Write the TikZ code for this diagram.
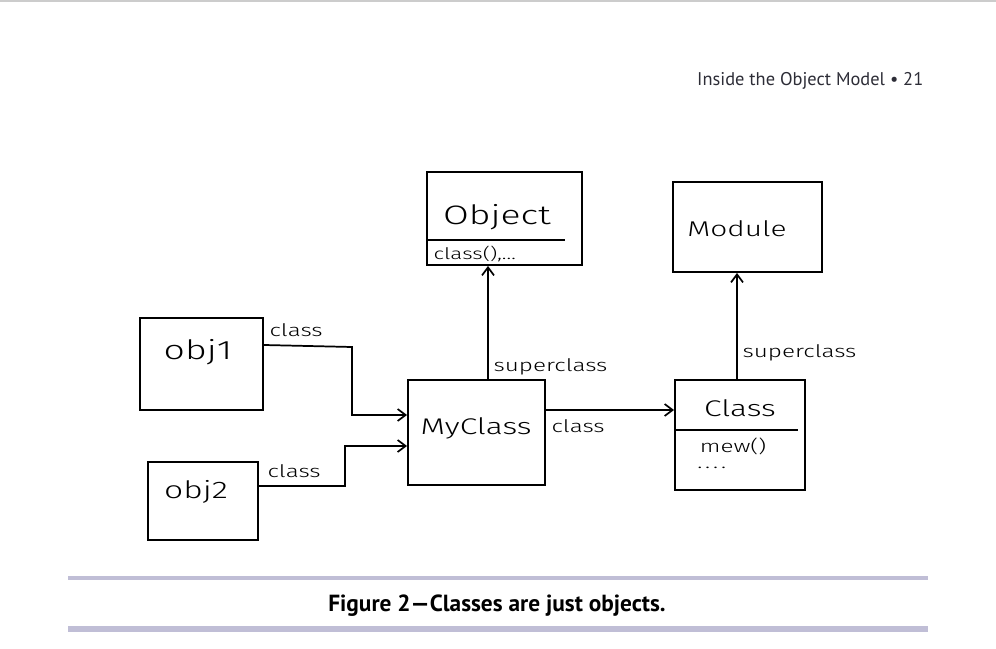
\documentclass[tikz,border=0pt]{standalone}
\usepackage{fontspec}
\setmainfont{PT Sans}
\newfontfamily\handfont[FakeStretch=1.4]{Fira Sans Light}
\usetikzlibrary{arrows.meta,positioning}
\definecolor{rulecol}{RGB}{192,190,214}
\definecolor{headcol}{RGB}{45,45,55}
\tikzset{
  box/.style={draw,line width=1.4pt,rectangle,inner sep=0pt},
  conn/.style={line width=1.3pt,-{Straight Barb[length=6pt,width=9pt]}},
  lab/.style={font=\handfont\fontsize{13}{14}\selectfont,inner sep=1pt}
}
\begin{document}
\begin{tikzpicture}[x=0.75pt,y=-0.75pt]
  \useasboundingbox (0,0) rectangle (996,649);
  % page header
  \draw[gray!40,line width=0.8pt] (0,1) -- (996,1);
  \node[anchor=base east,text=headcol,font=\fontsize{13.8}{15}\selectfont] (header) at (928,86) {Inside the Object Model \textbullet\ 21};
  % boxes
  \node[box,minimum width=116.25pt,minimum height=69.75pt] (object) at (504.5,218.5) {};
  \node[box,minimum width=111.75pt,minimum height=67.5pt] (module) at (747.5,227) {};
  \node[box,minimum width=92.25pt,minimum height=69pt] (obj1) at (201.5,364) {};
  \node[box,minimum width=82.5pt,minimum height=58.5pt] (obj2) at (203,501) {};
  \node[box,minimum width=102.75pt,minimum height=78.75pt] (myclass) at (476.5,432.5) {};
  \node[box,minimum width=97.5pt,minimum height=82.5pt] (class) at (740,435) {};
  % dividers
  \draw[line width=1.3pt] (object.west |- 0,240) -- (565,240);
  \draw[line width=1.3pt] (class.west |- 0,430) -- (798,430);
  % box texts
  \node[font=\handfont\fontsize{20}{22}\selectfont] (objectname) at (497,217) {Object};
  \node[font=\handfont\fontsize{12}{14}\selectfont,anchor=west] (objectmeth) at (429,254) {class(),\dots};
  \node[font=\handfont\fontsize{16}{18}\selectfont] (modulename) at (737,229) {Module};
  \node[font=\handfont\fontsize{20}{22}\selectfont] (obj1name) at (198,352) {obj1};
  \node[font=\handfont\fontsize{18}{20}\selectfont] (obj2name) at (196,492) {obj2};
  \node[font=\handfont\fontsize{17}{20}\selectfont] (myclassname) at (476,428) {MyClass};
  \node[font=\handfont\fontsize{17}{18}\selectfont] (classname) at (740,408) {Class};
  \node[font=\handfont\fontsize{13}{14}\selectfont] (classmeth) at (733,446) {mew()};
  \node[font=\handfont\fontsize{13}{14}\selectfont,anchor=west,inner sep=0pt] (classdots) at (697,468) {.\,.\,.\,.};
  % connectors
  \coordinate (supfoot) at (488,380);
  \coordinate (csupfoot) at (737,380);
  \draw[conn] (obj1.east |- 0,345) -- (352,347) |- (myclass.west |- 0,415);
  \draw[conn] (obj2.east |- 0,486) -- (345,486) |- (myclass.west |- 0,446);
  \draw[conn] (supfoot) -- (supfoot |- object.south);
  \draw[conn] (myclass.east |- 0,410) -- (class.west |- 0,410);
  \draw[conn] (csupfoot) -- (csupfoot |- module.south);
  % connector labels
  \node[lab,anchor=south west] (lab1) at (268,338) {class};
  \node[lab,anchor=south west] (lab2) at (266,479) {class};
  \node[lab,anchor=west] (lab3) at (492,367) {superclass};
  \node[lab,anchor=west] (lab4) at (550,426) {class};
  \node[lab,anchor=west] (lab5) at (741,353) {superclass};
  % caption
  \draw[rulecol,line width=3pt] (68,578) -- (928,578);
  \node[font=\bfseries\fontsize{17.5}{20}\selectfont] (caption) at (497,606) {Figure 2---Classes are just objects.};
  \draw[rulecol,line width=4.5pt] (68,629) -- (928,629);
\end{tikzpicture}
\end{document}
